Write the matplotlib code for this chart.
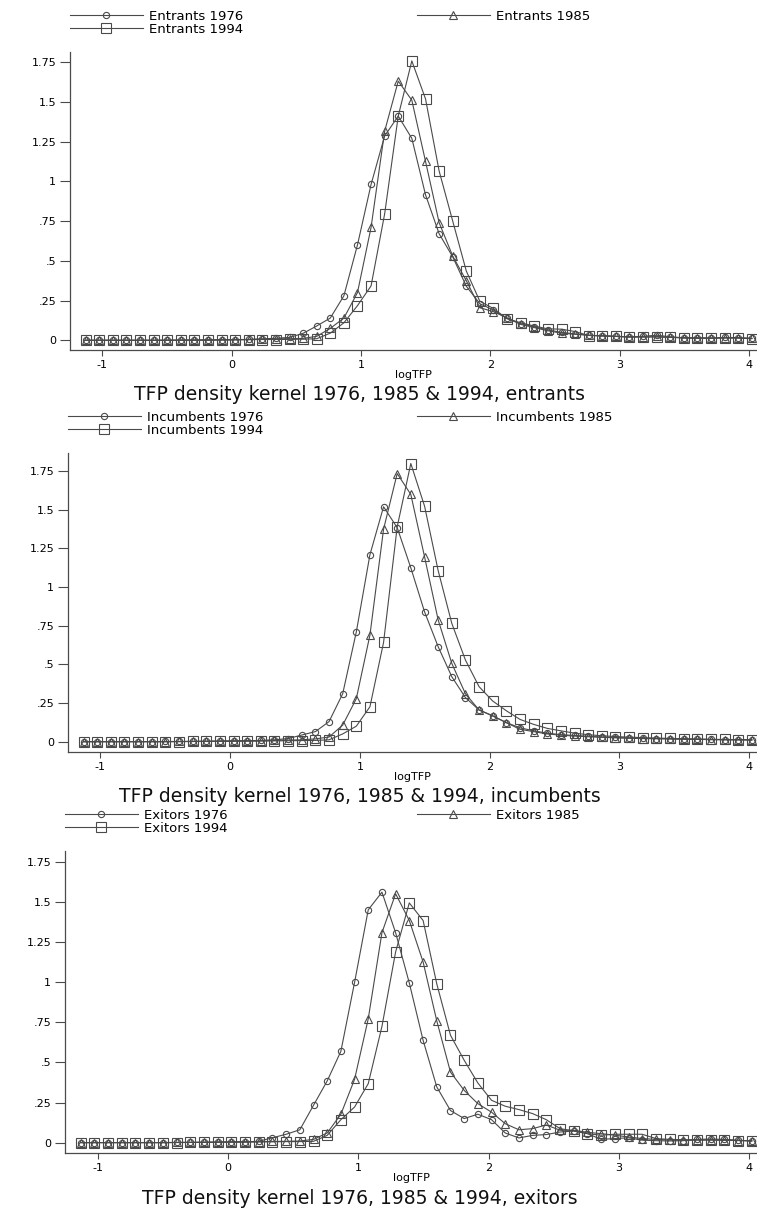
import numpy as np
import matplotlib
matplotlib.use("Agg")
import matplotlib.pyplot as plt

# kernel density evaluation points (log TFP)
logtfp = [-1.130, -1.025, -0.920, -0.815, -0.710, -0.604, -0.499, -0.394, -0.289, -0.184,
          -0.079, 0.026, 0.131, 0.236, 0.341, 0.447, 0.552, 0.657, 0.762, 0.867,
          0.972, 1.077, 1.182, 1.287, 1.392, 1.498, 1.603, 1.708, 1.813, 1.918,
          2.023, 2.128, 2.233, 2.338, 2.443, 2.549, 2.654, 2.759, 2.864, 2.969,
          3.074, 3.179, 3.284, 3.389, 3.494, 3.600, 3.705, 3.810, 3.915, 4.020]

entrants_1976 = [0, 0, 0, 0, 0, 0, 0.001, 0.001, 0.002, 0.002,
                 0.003, 0.004, 0.006, 0.009, 0.013, 0.018, 0.044, 0.090, 0.140, 0.280,
                 0.600, 0.980, 1.285, 1.410, 1.270, 0.915, 0.670, 0.525, 0.340, 0.230,
                 0.190, 0.140, 0.105, 0.085, 0.065, 0.050, 0.040, 0.032, 0.028, 0.024,
                 0.022, 0.025, 0.032, 0.022, 0.015, 0.016, 0.014, 0.018, 0.017, 0.012]
entrants_1985 = [0, 0, 0, 0, 0, 0, 0, 0.001, 0.001, 0.002,
                 0.003, 0.004, 0.005, 0.007, 0.009, 0.010, 0.012, 0.025, 0.075, 0.140,
                 0.300, 0.710, 1.315, 1.630, 1.510, 1.125, 0.740, 0.530, 0.375, 0.205,
                 0.180, 0.140, 0.100, 0.080, 0.060, 0.045, 0.038, 0.032, 0.028, 0.025,
                 0.022, 0.020, 0.024, 0.020, 0.016, 0.014, 0.013, 0.014, 0.015, 0.012]
entrants_1994 = [0, 0, 0, 0, 0, 0, 0, 0, 0.001, 0.001,
                 0.002, 0.003, 0.004, 0.005, 0.005, 0.006, 0.007, 0.010, 0.045, 0.110,
                 0.218, 0.342, 0.795, 1.410, 1.757, 1.518, 1.065, 0.750, 0.436, 0.245,
                 0.200, 0.135, 0.110, 0.090, 0.072, 0.070, 0.055, 0.030, 0.028, 0.025,
                 0.020, 0.022, 0.020, 0.018, 0.015, 0.012, 0.014, 0.016, 0.014, 0.010]

incumbents_1976 = [0, 0, 0, 0, 0, 0, 0.001, 0.001, 0.002, 0.003,
                   0.004, 0.005, 0.006, 0.008, 0.012, 0.020, 0.043, 0.065, 0.130, 0.310,
                   0.710, 1.210, 1.520, 1.385, 1.125, 0.840, 0.614, 0.420, 0.285, 0.205,
                   0.168, 0.123, 0.090, 0.070, 0.055, 0.045, 0.040, 0.035, 0.030, 0.027,
                   0.024, 0.022, 0.020, 0.018, 0.016, 0.015, 0.014, 0.013, 0.012, 0.011]
incumbents_1985 = [0, 0, 0, 0, 0, 0, 0, 0.001, 0.001, 0.002,
                   0.003, 0.004, 0.005, 0.006, 0.008, 0.010, 0.012, 0.018, 0.030, 0.107,
                   0.278, 0.690, 1.375, 1.735, 1.600, 1.196, 0.787, 0.506, 0.310, 0.205,
                   0.166, 0.123, 0.080, 0.065, 0.050, 0.042, 0.036, 0.032, 0.028, 0.025,
                   0.022, 0.020, 0.019, 0.018, 0.016, 0.015, 0.013, 0.012, 0.012, 0.011]
incumbents_1994 = [0, 0, 0, 0, 0, 0, 0, 0, 0.001, 0.001,
                   0.002, 0.003, 0.003, 0.004, 0.005, 0.006, 0.007, 0.008, 0.012, 0.050,
                   0.100, 0.226, 0.642, 1.390, 1.800, 1.524, 1.106, 0.765, 0.528, 0.356,
                   0.263, 0.200, 0.144, 0.112, 0.086, 0.070, 0.055, 0.045, 0.038, 0.033,
                   0.029, 0.026, 0.023, 0.021, 0.019, 0.017, 0.015, 0.014, 0.013, 0.012]

exitors_1976 = [0, 0, 0, 0, 0, 0, 0, 0.001, 0.001, 0.002,
                0.003, 0.004, 0.005, 0.008, 0.030, 0.052, 0.080, 0.233, 0.385, 0.570,
                1.000, 1.453, 1.563, 1.310, 0.996, 0.638, 0.347, 0.200, 0.150, 0.177,
                0.143, 0.060, 0.029, 0.045, 0.050, 0.066, 0.072, 0.056, 0.020, 0.025,
                0.030, 0.015, 0.012, 0.010, 0.012, 0.020, 0.022, 0.020, 0.015, 0.010]
exitors_1985 = [0, 0, 0, 0, 0, 0, 0, 0.001, 0.001, 0.002,
                0.003, 0.004, 0.005, 0.006, 0.007, 0.008, 0.010, 0.020, 0.060, 0.177,
                0.395, 0.773, 1.310, 1.553, 1.386, 1.127, 0.759, 0.440, 0.326, 0.243,
                0.190, 0.118, 0.080, 0.087, 0.110, 0.077, 0.077, 0.064, 0.056, 0.046,
                0.035, 0.025, 0.020, 0.016, 0.015, 0.016, 0.018, 0.016, 0.013, 0.010]
exitors_1994 = [0, 0, 0, 0, 0, 0, 0, 0, 0.001, 0.001,
                0.002, 0.003, 0.003, 0.004, 0.005, 0.006, 0.006, 0.008, 0.045, 0.143,
                0.222, 0.368, 0.725, 1.190, 1.496, 1.386, 0.990, 0.670, 0.514, 0.372,
                0.264, 0.227, 0.206, 0.181, 0.143, 0.087, 0.073, 0.056, 0.046, 0.052,
                0.052, 0.052, 0.025, 0.020, 0.018, 0.016, 0.015, 0.014, 0.013, 0.012]

groups = ["Entrants", "Incumbents", "Exitors"]
years = ["1976", "1985", "1994"]
series = [[entrants_1976, entrants_1985, entrants_1994],
          [incumbents_1976, incumbents_1985, incumbents_1994],
          [exitors_1976, exitors_1985, exitors_1994]]
titles = ["TFP density kernel 1976, 1985 & 1994, entrants",
          "TFP density kernel 1976, 1985 & 1994, incumbents",
          "TFP density kernel 1976, 1985 & 1994, exitors"]

yticks = [0, 0.25, 0.5, 0.75, 1, 1.25, 1.5, 1.75]
ytick_labels = ["0", ".25", ".5", ".75", "1", "1.25", "1.5", "1.75"]
xticks = [-1, 0, 1, 2, 3, 4]
xtick_labels = ["-1", "0", "1", "2", "3", "4"]

markers = ["o", "^", "s"]
msizes = [4.5, 5.5, 6.5]
ink = "#4a4a4a"

W, H = 757, 1210
fig = plt.figure(figsize=(W / 100, H / 100), dpi=100)

# axes boxes in pixels: left, top, bottom
boxes = [(70, 52, 350), (68, 453, 752), (65, 851, 1153)]
ylims = [(-0.061, 1.813), (-0.067, 1.868), (-0.065, 1.82)]

for k in range(3):
    left, top, bottom = boxes[k]
    ax = fig.add_axes([left / W, 1 - bottom / H, (W - left) / W, (bottom - top) / H])

    handles = []
    for j in range(3):
        ln, = ax.plot(logtfp, series[k][j], color=ink, lw=0.8,
                      marker=markers[j], ms=msizes[j], mfc="none", mec=ink, mew=0.8,
                      label=groups[k] + " " + years[j])
        handles.append(ln)

    ax.set_xlim(-1.25, 4.06)
    ax.set_ylim(*ylims[k])
    ax.set_yticks(yticks)
    ax.set_yticklabels(ytick_labels)
    ax.set_xticks(xticks)
    ax.set_xticklabels(xtick_labels)
    ax.tick_params(axis="y", length=7, width=0.8, color=ink, labelsize=8, pad=3)
    ax.tick_params(axis="x", length=4, width=0.8, color=ink, labelsize=8, pad=3)
    for s in ["top", "right"]:
        ax.spines[s].set_visible(False)
    for s in ["left", "bottom"]:
        ax.spines[s].set_color(ink)
        ax.spines[s].set_linewidth(0.9)
    ax.set_xlabel("logTFP", fontsize=8, labelpad=0)

    # legend: two entries in first column, one in second
    leg_top = 1 - (top - 42) / H
    fig.legend([handles[0], handles[2]], [h.get_label() for h in (handles[0], handles[2])],
               loc="upper left", bbox_to_anchor=(left / W, leg_top),
               frameon=False, fontsize=9.5, handlelength=5.5, handletextpad=0.5,
               labelspacing=0.0, borderpad=0, borderaxespad=0)
    fig.legend([handles[1]], [handles[1].get_label()],
               loc="upper left", bbox_to_anchor=(417 / W, leg_top),
               frameon=False, fontsize=9.5, handlelength=5.5, handletextpad=0.5,
               labelspacing=0.0, borderpad=0, borderaxespad=0)

    fig.text(360 / W, 1 - (bottom + 45) / H, titles[k], fontsize=13.5,
             ha="center", va="center", color="#111111")

fig.savefig("out.png", dpi=100)
